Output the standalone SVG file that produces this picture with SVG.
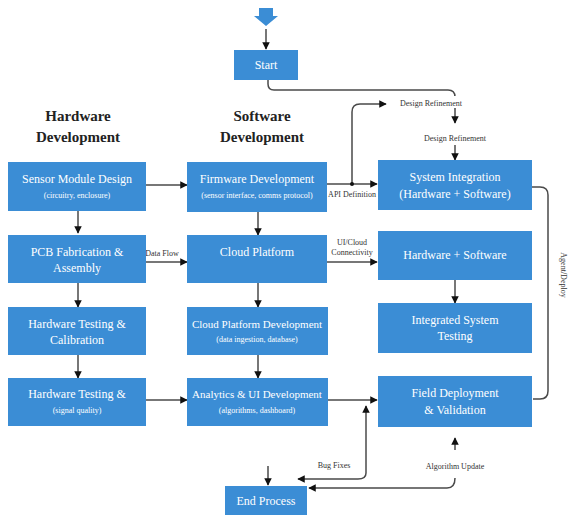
<svg xmlns="http://www.w3.org/2000/svg" width="568" height="523" viewBox="0 0 568 523">
<style>
.box{fill:#3b8dd5;}
.t{font-family:"Liberation Serif",serif;fill:#fff;font-size:12px;text-anchor:middle;}
.n{font-size:11px;}
.s{font-family:"Liberation Serif",serif;fill:#fff;font-size:8px;text-anchor:middle;}
.h{font-family:"Liberation Serif",serif;fill:#222;font-size:15px;font-weight:bold;text-anchor:middle;}
.l{font-family:"Liberation Serif",serif;fill:#333;font-size:8px;text-anchor:middle;}
.c{fill:none;stroke:#4a4a4a;stroke-width:1.5;}
</style>
<defs>
<marker id="a" viewBox="0 0 10 10" refX="9" refY="5" markerWidth="5" markerHeight="5" orient="auto"><path d="M0,0 L10,5 L0,10 z" fill="#111"/></marker>
</defs>
<rect width="568" height="523" fill="#fff"/>
<g id="headings">
<text class="h" x="78" y="121">Hardware</text>
<text class="h" x="78" y="142">Development</text>
<text class="h" x="262" y="121">Software</text>
<text class="h" x="262" y="142">Development</text>
</g>
<g id="connectors">
<path d="M259,8 h14 v8 h5 l-12,10 l-12,-10 h5 z" fill="#3b8dd5"/>
<path class="c" d="M266,29 V49" marker-end="url(#a)"/>
<path class="c" d="M268,80 V84 Q268,90 274,90 H448 Q455,90 455,97 V123" marker-end="url(#a)"/>
<path class="c" d="M455,145 V160" marker-end="url(#a)"/>
<path class="c" d="M352,183 V112 Q352,104 360,104 H386" marker-end="url(#a)"/>
<path class="c" d="M146,185 H187" marker-end="url(#a)"/>
<path class="c" d="M327,184 H377" marker-end="url(#a)"/>
<circle cx="352" cy="184" r="2" fill="#111"/>
<path class="c" d="M78,211 V233" marker-end="url(#a)"/>
<path class="c" d="M78,283 V307" marker-end="url(#a)"/>
<path class="c" d="M78,355 V378" marker-end="url(#a)"/>
<path class="c" d="M258,212 V235" marker-end="url(#a)"/>
<path class="c" d="M258,283 V307" marker-end="url(#a)"/>
<path class="c" d="M258,355 V378" marker-end="url(#a)"/>
<path class="c" d="M146,262 H187" marker-end="url(#a)"/>
<path class="c" d="M327,262 H377" marker-end="url(#a)"/>
<path class="c" d="M455,280 V303" marker-end="url(#a)"/>
<path class="c" d="M146,400 H187" marker-end="url(#a)"/>
<path class="c" d="M328,400 H377" marker-end="url(#a)"/>
<path class="c" d="M532,187 H540 Q548,187 548,195 V391 Q548,399 540,399 H533"/>
<path class="c" d="M366,473 Q366,479 358,479 H298" marker-end="url(#a)"/>
<path class="c" d="M366,473 V406" marker-end="url(#a)"/>
<path class="c" d="M455,450 V438" marker-end="url(#a)"/>
<path class="c" d="M455,478 Q455,488 447,488 H309" marker-end="url(#a)"/>
<path class="c" d="M268,466 V485" marker-end="url(#a)"/>
</g>
<g id="labels">
<rect x="388" y="96" width="86" height="12" fill="#fff"/>
<text class="l" x="431" y="106">Design Refinement</text>
<text class="l" x="455" y="141">Design Refinement</text>
<rect x="330" y="190" width="44" height="9" fill="#fff"/>
<text class="l" x="352" y="197" font-size="6.5">API Definition</text>
<text class="l" x="162" y="256" font-size="7">Data Flow</text>
<text class="l" x="352" y="245" font-size="7">UI/Cloud</text>
<text class="l" x="352" y="255" font-size="7">Connectivity</text>
<text class="l" x="334" y="468">Bug Fixes</text>
<text class="l" x="455" y="469">Algorithm Update</text>
<text class="l" x="561" y="275" font-size="8" transform="rotate(90 561 275)">Agent/Deploy</text>
</g>
<g id="start"><rect class="box" x="234" y="50" width="64" height="30"/><text class="t" x="266" y="69">Start</text></g>
<g id="sensor"><rect class="box" x="8" y="162" width="138" height="49"/><text class="t" x="77" y="183">Sensor Module Design</text><text class="s" x="77" y="198">(circuitry, enclosure)</text></g>
<g id="firmware"><rect class="box" x="187" y="162" width="140" height="50"/><text class="t" x="257" y="183">Firmware Development</text><text class="s" x="257" y="198">(sensor interface, comms protocol)</text></g>
<g id="sysint"><rect class="box" x="378" y="160" width="154" height="50"/><text class="t" x="455" y="181">System Integration</text><text class="t" x="455" y="198">(Hardware + Software)</text></g>
<g id="pcb"><rect class="box" x="8" y="235" width="138" height="48"/><text class="t" x="77" y="256">PCB Fabrication &amp;</text><text class="t" x="77" y="272">Assembly</text></g>
<g id="cloud"><rect class="box" x="187" y="235" width="140" height="48"/><text class="t" x="257" y="256">Cloud Platform</text></g>
<g id="hwsw"><rect class="box" x="378" y="231" width="154" height="49"/><text class="t" x="455" y="259">Hardware + Software</text></g>
<g id="hwtest"><rect class="box" x="8" y="307" width="138" height="48"/><text class="t" x="77" y="328">Hardware Testing &amp;</text><text class="t" x="77" y="344">Calibration</text></g>
<g id="cpd"><rect class="box" x="187" y="307" width="141" height="48"/><text class="t n" x="257" y="328">Cloud Platform Development</text><text class="s" x="257" y="342">(data ingestion, database)</text></g>
<g id="ist"><rect class="box" x="378" y="303" width="154" height="50"/><text class="t" x="455" y="324">Integrated System</text><text class="t" x="455" y="340">Testing</text></g>
<g id="hwtest2"><rect class="box" x="8" y="378" width="138" height="48"/><text class="t" x="77" y="398">Hardware Testing &amp;</text><text class="s" x="77" y="413">(signal quality)</text></g>
<g id="analytics"><rect class="box" x="187" y="378" width="141" height="48"/><text class="t n" x="257" y="398">Analytics &amp; UI Development</text><text class="s" x="257" y="413">(algorithms, dashboard)</text></g>
<g id="field"><rect class="box" x="378" y="376" width="154" height="51"/><text class="t" x="455" y="397">Field Deployment</text><text class="t" x="455" y="414">&amp; Validation</text></g>
<g id="end"><rect class="box" x="225" y="486" width="82" height="29"/><text class="t" x="266" y="505">End Process</text></g>
</svg>
